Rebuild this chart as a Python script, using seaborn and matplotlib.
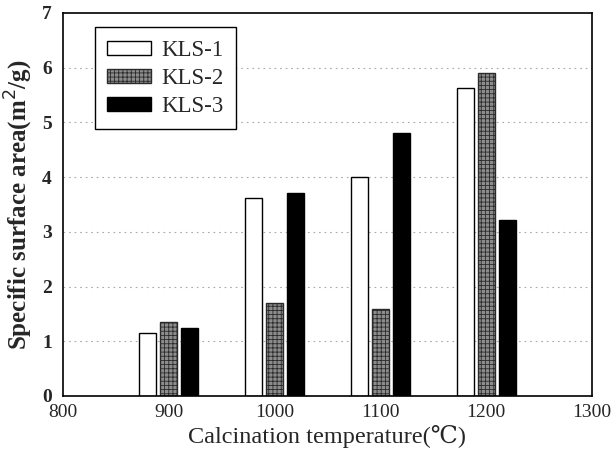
import matplotlib
matplotlib.use("Agg")
import matplotlib.pyplot as plt
import seaborn as sns
import pandas as pd

temperatures = [900, 1000, 1100, 1200]
series_names = ["KLS-1", "KLS-2", "KLS-3"]
kls1 = [1.15, 3.61, 4.01, 5.62]
kls2 = [1.36, 1.70, 1.59, 5.91]
kls3 = [1.25, 3.70, 4.81, 3.21]
x_ticks = [800, 900, 1000, 1100, 1200, 1300]
y_ticks = [0, 1, 2, 3, 4, 5, 6, 7]

df = pd.DataFrame({
    "temp": temperatures * 3,
    "area": kls1 + kls2 + kls3,
    "sample": [s for s in series_names for _ in temperatures],
})

sns.set_style("white")
serif = ["Liberation Serif", "DejaVu Serif", "Noto Sans CJK SC"]
plt.rcParams["font.family"] = serif
plt.rcParams["hatch.linewidth"] = 0.6

fig = plt.figure(figsize=(6.11, 4.62), dpi=100)
ax = fig.add_axes([0.103, 0.143, 0.866, 0.829])

palette = {"KLS-1": "white", "KLS-2": "#8c8c8c", "KLS-3": "black"}
sns.barplot(data=df, x="temp", y="area", hue="sample", native_scale=True,
            palette=palette, width=0.6, gap=0.2, edgecolor="black",
            linewidth=1.0, ax=ax, legend=True)

hatches = {"KLS-2": "++++"}
for cont, name in zip(ax.containers, series_names):
    for p in cont:
        if name in hatches:
            p.set_hatch(hatches[name])
            p.set_edgecolor("#2a2a2a")

ax.set_xlim(800, 1300)
ax.set_ylim(0, 7)
ax.set_xticks(x_ticks)
ax.set_yticks(y_ticks)
ax.set_xticklabels([str(v) for v in x_ticks], fontsize=14)
ax.set_yticklabels([str(v) for v in y_ticks], fontsize=14, fontweight="bold")
ax.tick_params(axis="x", length=0, pad=6)
ax.tick_params(axis="y", length=0, pad=8)

for yv in y_ticks[1:-1]:
    ax.axhline(yv, color="#a8a8a8", linestyle=(0, (1.5, 3.5)), linewidth=0.8, zorder=0)

for s in ax.spines.values():
    s.set_color("black")
    s.set_linewidth(1.2)

ax.set_xlabel("Calcination temperature(℃)", fontsize=17.5, labelpad=3)
ax.set_ylabel("Specific surface area(m$^2$/g)", fontsize=18, fontweight="bold", labelpad=5)

handles, labels = ax.get_legend_handles_labels()
for h, name in zip(handles, labels):
    h.set_edgecolor("black")
    if name in hatches:
        h.set_hatch(hatches[name])
        h.set_edgecolor("#2a2a2a")
leg = ax.legend(handles, labels, loc="upper left", bbox_to_anchor=(0.06, 0.962),
                fontsize=16.5, frameon=True, fancybox=False, framealpha=1,
                edgecolor="black", handlelength=1.9, handleheight=0.55,
                borderpad=0.55, labelspacing=0.3, handletextpad=0.45,
                borderaxespad=0)
leg.get_frame().set_linewidth(1.0)

fig.savefig("out.png", dpi=100)
